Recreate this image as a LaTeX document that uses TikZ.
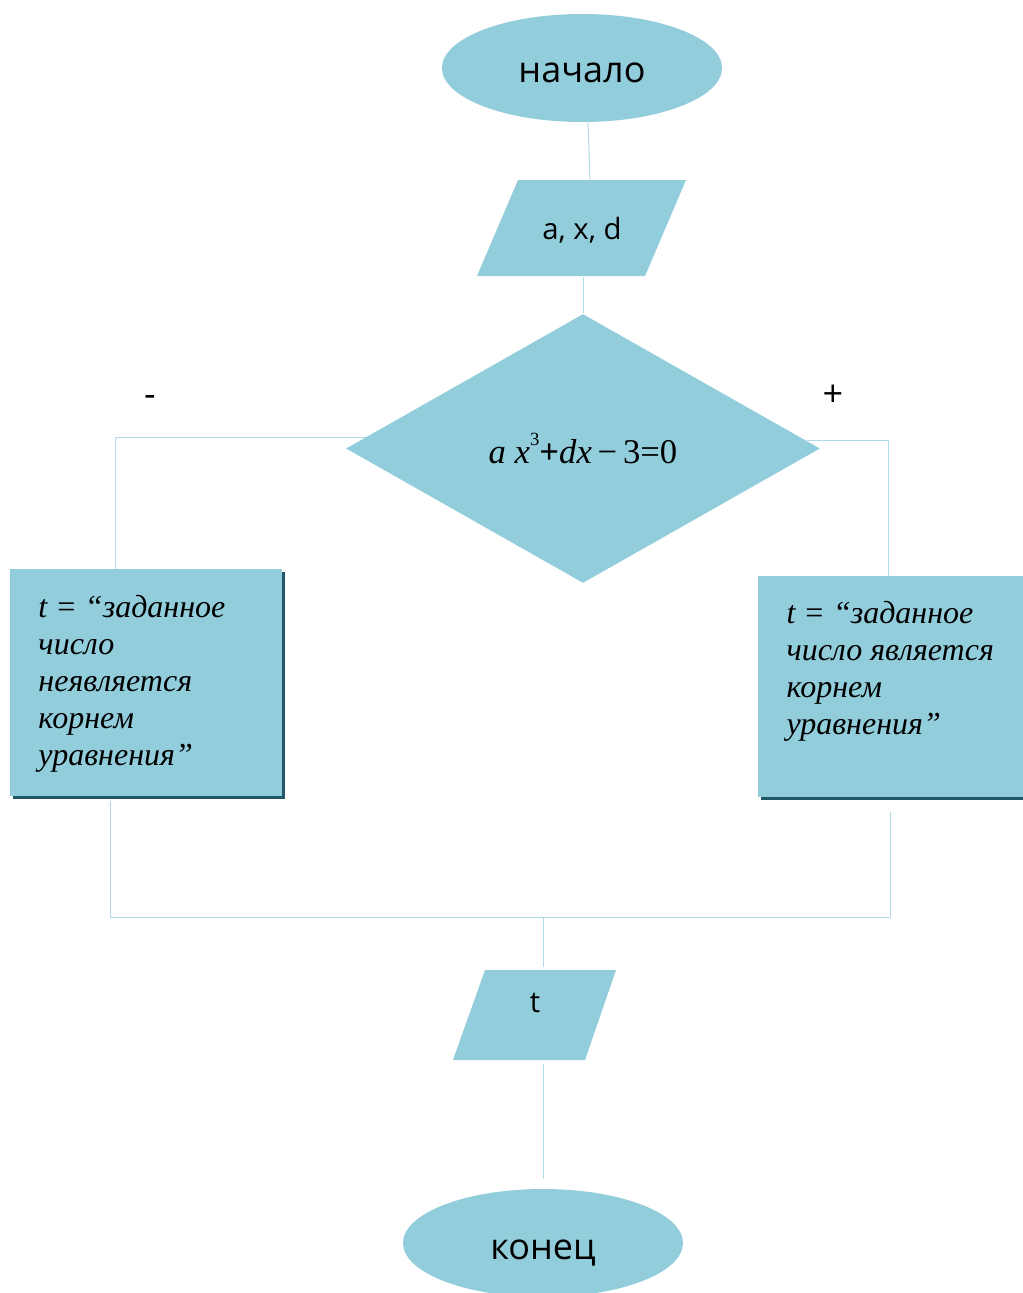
\documentclass[tikz,border=0pt]{standalone}
\usepackage{fontspec}
\setmainfont{Liberation Serif}
\newfontfamily\opsans{Open Sans}
\usetikzlibrary{shapes.geometric,shadows}
\definecolor{flowfill}{RGB}{146,205,220}
\definecolor{flowline}{RGB}{176,218,230}
\definecolor{flowshade}{RGB}{33,89,104}
\tikzset{every picture/.style={line width=0.75pt}}
\tikzset{
  term/.style={ellipse, fill=flowfill, minimum width=210pt, minimum height=81pt, inner sep=0pt, font=\opsans\fontsize{27}{32}\selectfont},
  iohold/.style={rectangle, minimum width=30pt, minimum height=72pt, inner sep=0pt},
  iotext/.style={inner sep=0pt, font=\opsans\fontsize{22}{26}\selectfont},
  cond/.style={diamond, fill=flowfill, minimum width=355.5pt, minimum height=201.75pt, inner sep=0pt, font=\fontsize{26}{30}\selectfont},
  procbox/.style={rectangle, fill=flowfill, inner sep=0pt, drop shadow={shadow xshift=2.5pt, shadow yshift=-2.5pt, fill=flowshade, opacity=1}},
  proctext/.style={anchor=north west, align=left, inner sep=0pt, font=\itshape\fontsize{24}{27.75}\selectfont},
  signtext/.style={inner sep=0pt, font=\opsans\fontsize{27}{32}\selectfont},
  link/.style={draw=flowline, line width=0.75pt},
}

\begin{document}
\begin{tikzpicture}[x=0.75pt,y=0.75pt,yscale=-1,xscale=1]
\useasboundingbox (0,0) rectangle (1022,1293);
%Shape: Ellipse
\node [term] (start) at (582,68) {\raisebox{-3.75pt}[\height][\depth]{начало}};
%Shape: Parallelogram
\fill [flowfill] (518,180) -- (686,180) -- (645,276) -- (477,276) -- cycle ;
\node [iohold] (inp) at (582,228) {};
% Text Node
\node [iotext] (inptxt) at (582,230) {a, x, d};
%Shape: Diamond
\node [cond] (dec) at (583,448.5) {\textit{a x}\raisebox{0.5em}{\fontsize{14}{14}\selectfont 3}\textbf{+}\textit{dx}\,−\,3=0};
% Text Node
\node [signtext] (minus) at (150,401) {-};
% Text Node
\node [signtext] (plus) at (833,396) {+};
%Shape: Rectangle
\node [procbox, minimum width=204pt, minimum height=170.25pt] (lbox) at (146,682.5) {};
\node [proctext] (ltxt) at (38,595) {t = “заданное\\число\\неявляется\\корнем\\уравнения”};
%Shape: Rectangle
\node [procbox, minimum width=199.5pt, minimum height=165.75pt] (rbox) at (891,686.5) {};
\node [proctext] (rtxt) at (786,601) {t = “заданное\\число является\\корнем\\уравнения”};
%Shape: Parallelogram
\fill [flowfill] (485,970) -- (616,970) -- (585,1060) -- (453,1060) -- cycle ;
\node [iohold] (out) at (543,1015) {};
% Text Node
\node [iotext] (outtxt) at (535,1003) {t};
%Shape: Ellipse
\node [term] (stop) at (543,1243) {\raisebox{-7.5pt}[\height][\depth]{конец}};
\coordinate (mrg) at (543,917);

%Straight Lines
\draw [link] ([xshift=4.5pt]start.south) -- ([xshift=6pt]inp.north) ;
\draw [link] ([xshift=0.75pt]inp.south) -- (dec) ;
\draw [link] (dec.177) -| ([xshift=-23.25pt]lbox.north) ;
\draw [link] (dec.2) -| ([xshift=-2.25pt]rbox.north) ;
\draw [link] ([xshift=-27pt,yshift=3pt]lbox.south) |- (mrg) -| ([xshift=-0.75pt,yshift=11pt]rbox.south) ;
\draw [link] (mrg) -- (out) ;
\draw [link] (out) -- ([yshift=-7.5pt]stop.north) ;
\end{tikzpicture}
\end{document}
